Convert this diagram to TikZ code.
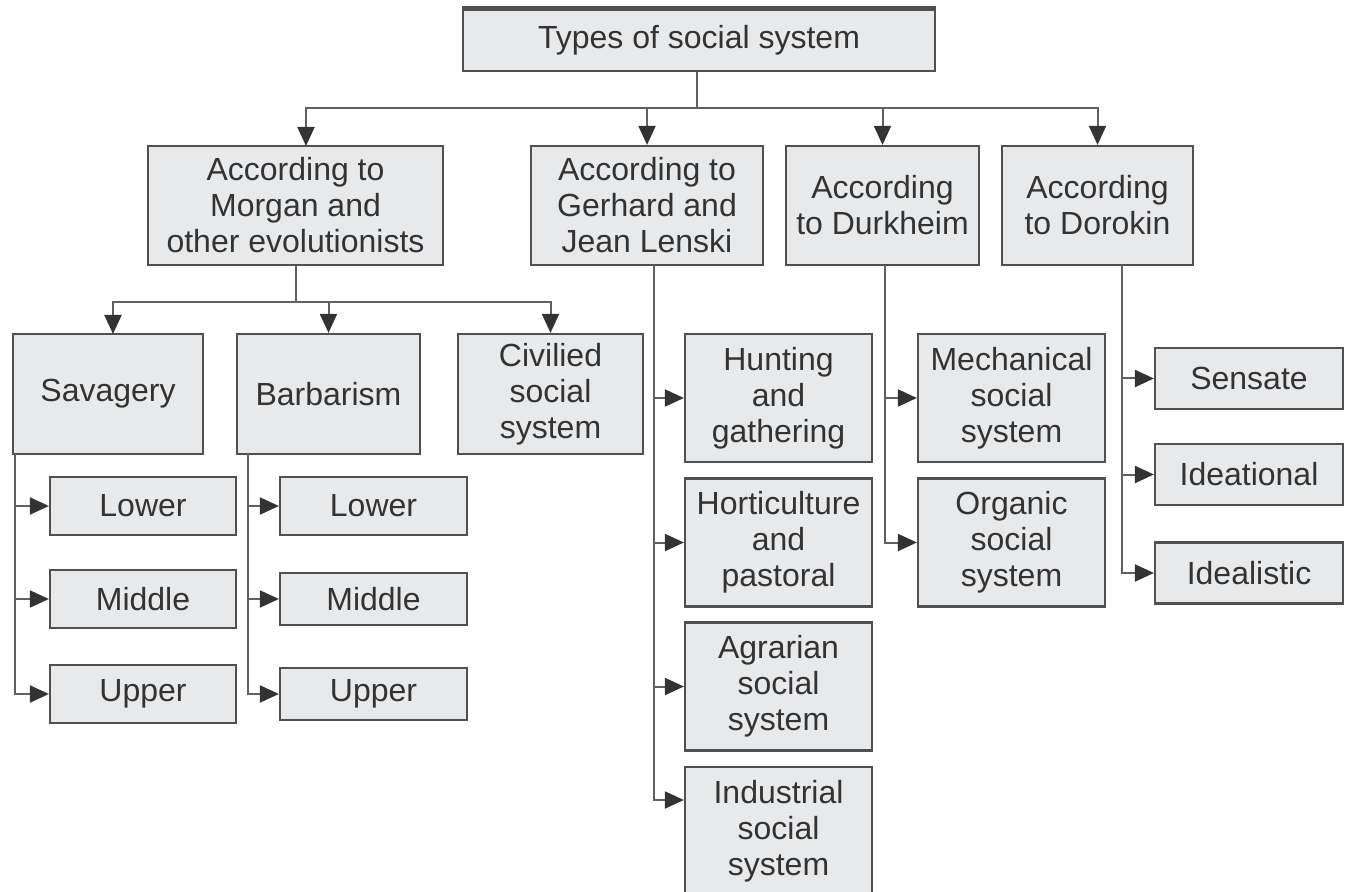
\documentclass[tikz,border=0pt]{standalone}
\usepackage{fontspec}
\setmainfont{Liberation Sans}
\usetikzlibrary{arrows.meta}
\definecolor{boxfill}{HTML}{E8E9EB}
\definecolor{boxline}{HTML}{505050}
\definecolor{conn}{HTML}{606060}
\definecolor{tipc}{HTML}{333333}
\definecolor{txt}{HTML}{333333}
\begin{document}
\begin{tikzpicture}[x=0.5pt,y=-0.5pt,
  box/.style={draw=boxline,fill=boxfill,line width=1.1pt,align=center,inner sep=0pt,
    font=\fontsize{16}{18}\selectfont,text=txt},
  conline/.style={draw=conn,line width=1pt},
  arr/.style={conline,-{Triangle[length=9.5pt,width=8.5pt,color=tipc]}}]
\useasboundingbox (0,0) rectangle (1352,892);
% top
\node[box,minimum width=236pt,minimum height=30.5pt] (top) at (699,40.5) {Types of social system};
\draw[boxline,line width=2.5pt] (top.north west) -- (top.north east);
% level 1
\node[box,minimum width=147.5pt,minimum height=59.5pt] (morgan) at (295.5,205.5) {According to\\Morgan and\\other evolutionists};
\node[box,minimum width=116pt,minimum height=59.5pt] (gerhard) at (647,205.5) {According to\\Gerhard and\\Jean Lenski};
\node[box,minimum width=96.5pt,minimum height=59.5pt] (durk) at (882.5,205.5) {According\\to Durkheim};
\node[box,minimum width=95.5pt,minimum height=59.5pt] (doro) at (1097.5,205.5) {According\\to Dorokin};
% level 2 (Morgan)
\node[box,minimum width=95pt,minimum height=60pt] (sav) at (108,394) {Savagery};
\node[box,minimum width=91.5pt,minimum height=60pt] (barb) at (328.5,394) {Barbarism};
\node[box,minimum width=92.5pt,minimum height=60pt] (civ) at (550.5,394) {Civilied\\social\\system};
\node[box,minimum width=93pt,minimum height=29pt] (slow) at (143,506) {Lower};
\node[box,minimum width=93pt,minimum height=29pt] (smid) at (143,599) {Middle};
\node[box,minimum width=93pt,minimum height=29pt] (supp) at (143,694) {Upper};
\node[box,minimum width=93.5pt,minimum height=29pt] (blow) at (373.5,506) {Lower};
\node[box,minimum width=93.5pt,minimum height=26pt] (bmid) at (373.5,599) {Middle};
\node[box,minimum width=93.5pt,minimum height=26pt] (bupp) at (373.5,694) {Upper};
% Lenski
\node[box,minimum width=93.5pt,minimum height=64pt] (hunt) at (778.5,398) {Hunting\\and\\gathering};
\node[box,minimum width=93.5pt,minimum height=64pt] (hort) at (778.5,542.5) {Horticulture\\and\\pastoral};
\node[box,minimum width=93.5pt,minimum height=64pt] (agr) at (778.5,686.5) {Agrarian\\social\\system};
\node[box,minimum width=93.5pt,minimum height=64pt] (ind) at (778.5,831) {Industrial\\social\\system};
% Durkheim
\node[box,minimum width=93.5pt,minimum height=64pt] (mech) at (1011.5,398) {Mechanical\\social\\system};
\node[box,minimum width=93.5pt,minimum height=64pt] (org) at (1011.5,542.5) {Organic\\social\\system};
% Dorokin
\node[box,minimum width=94pt,minimum height=30.5pt] (sens) at (1249,378.5) {Sensate};
\node[box,minimum width=94pt,minimum height=30.5pt] (idea) at (1249,474.5) {Ideational};
\node[box,minimum width=94pt,minimum height=30.5pt] (ideal) at (1249,573) {Idealistic};
% connectors: top
\coordinate (bus) at (697,108);
\draw[conline] (top.south -| bus) -- (bus);
\draw[arr] (bus) -| (306,146) coordinate (ma);
\draw[arr] (bus) -| (gerhard.north);
\draw[arr] (bus) -| (durk.north);
\draw[arr] (bus) -| (doro.north);
% Morgan
\coordinate (mbus) at (296,302);
\draw[conline] (morgan.south -| mbus) -- (mbus);
\draw[arr] (mbus) -| (113,334) coordinate (sa);
\draw[arr] (mbus) -| (barb.north);
\draw[arr] (mbus) -| (civ.north);
% Savagery spine
\coordinate (ssp) at (15,454);
\draw[arr] (ssp) |- (slow.west);
\draw[arr] (ssp) |- (smid.west);
\draw[arr] (ssp) |- (supp.west);
% Barbarism spine
\coordinate (bsp) at (248,454);
\draw[arr] (bsp) |- (blow.west);
\draw[arr] (bsp) |- (bmid.west);
\draw[arr] (bsp) |- (bupp.west);
% Lenski spine
\coordinate (gsp) at (654,265);
\draw[arr] (gsp) |- (hunt.west);
\draw[arr] (gsp) |- (hort.west);
\draw[arr] (gsp) |- (agr.west);
\draw[arr] (gsp) |- (ind.west |- 0,800);
% Durkheim spine
\coordinate (dsp) at (885,265);
\draw[arr] (dsp) |- (mech.west);
\draw[arr] (dsp) |- (org.west);
% Dorokin spine
\coordinate (rsp) at (1122,265);
\draw[arr] (rsp) |- (sens.west);
\draw[arr] (rsp) |- (idea.west);
\draw[arr] (rsp) |- (ideal.west);
\end{tikzpicture}
\end{document}
